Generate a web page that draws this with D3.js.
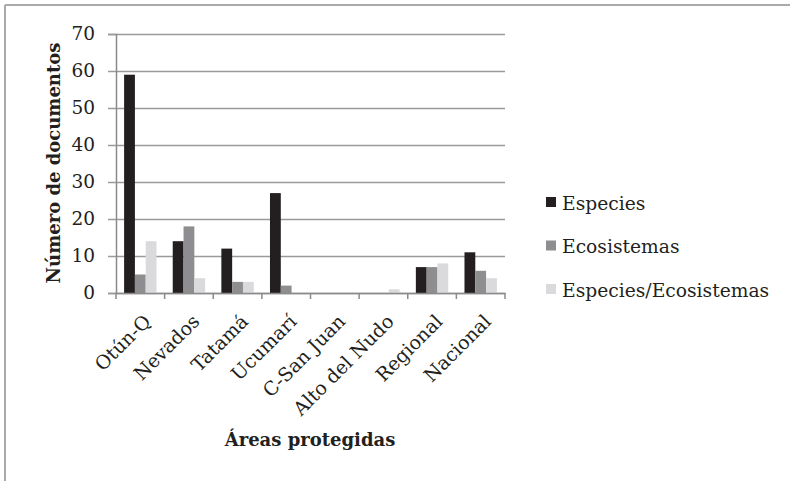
<!DOCTYPE html>
<html>
<head>
<meta charset="utf-8">
<script src="https://cdn.jsdelivr.net/npm/d3@7"></script>
<style>
  body { margin: 0; background: #fff; }
  svg text { font-family: "DejaVu Serif", "Liberation Serif", serif; fill: #231f20; }
</style>
</head>
<body>
<div id="chart"></div>
<script>
// data
const areas = ["Otún-Q", "Nevados", "Tatamá", "Ucumarí", "C-San Juan", "Alto del Nudo", "Regional", "Nacional"];
const seriesNames = ["Especies", "Ecosistemas", "Especies/Ecosistemas"];
const especies = [59, 14, 12, 27, 0, 0, 7, 11];
const ecosistemas = [5, 18, 3, 2, 0, 0, 7, 6];
const especiesEco = [14, 4, 3, 0, 0, 1, 8, 4];
const yTicks = [0, 10, 20, 30, 40, 50, 60, 70];
const colors = ["#231f20", "#8e8e90", "#dadadc"];

const W = 790, H = 481;
const svg = d3.select("#chart").append("svg")
    .attr("width", W)
    .attr("height", H);

// outer frame (top + left only visible)
svg.append("line").attr("x1", 5).attr("y1", 5).attr("x2", W).attr("y2", 5)
    .attr("stroke", "#aaaaaa").attr("stroke-width", 2);
svg.append("line").attr("x1", 5).attr("y1", 5).attr("x2", 5).attr("y2", H)
    .attr("stroke", "#aaaaaa").attr("stroke-width", 2);

const pLeft = 116, pRight = 505, pTop = 34, pBottom = 293;

const x = d3.scaleBand().domain(areas).range([pLeft, pRight]).paddingInner(0).paddingOuter(0);
const inner = x.bandwidth() / 4.5;  // three bars + 1.5 bar gap
const xs = d3.scaleBand().domain(seriesNames).range([0, inner * 3]);
const y = d3.scaleLinear().domain([0, 70]).range([pBottom, pTop]);

// grid
svg.append("g")
    .attr("transform", `translate(${pLeft},0)`)
    .call(d3.axisLeft(y).tickValues(yTicks).tickSize(-(pRight - pLeft)).tickFormat(""))
    .call(g => g.select(".domain").remove())
    .call(g => g.selectAll("line").attr("stroke", "#9a9a9a").attr("stroke-width", 1.5));

// y axis
svg.append("g")
    .attr("transform", `translate(${pLeft},0)`)
    .call(d3.axisLeft(y).tickValues(yTicks).tickSize(8).tickPadding(13))
    .call(g => g.select(".domain").attr("stroke", "#8a8a8a").attr("stroke-width", 1.5))
    .call(g => g.selectAll("line").attr("stroke", "#9a9a9a").attr("stroke-width", 1.5))
    .call(g => g.selectAll("text").attr("font-size", 18.5).attr("fill", "#231f20")
        .style("font-family", "'DejaVu Serif', serif"));

// bars
const table = areas.map((a, i) => ({ area: a, vals: [especies[i], ecosistemas[i], especiesEco[i]] }));
const groups = svg.append("g").selectAll("g")
    .data(table).enter().append("g")
    .attr("transform", d => `translate(${x(d.area) + inner * 0.75},0)`);
groups.selectAll("rect")
    .data(d => d.vals.map((v, k) => ({ s: seriesNames[k], v: v, k: k })))
    .enter().append("rect")
    .attr("x", d => xs(d.s))
    .attr("width", xs.bandwidth())
    .attr("y", d => y(d.v))
    .attr("height", d => pBottom - y(d.v))
    .attr("fill", d => colors[d.k]);

// x axis
const xAxis = svg.append("g")
    .attr("transform", `translate(0,${pBottom})`)
    .call(d3.axisBottom(x).tickSize(0).tickFormat(""))
    .call(g => g.select(".domain").attr("stroke", "#8a8a8a").attr("stroke-width", 1.5));
// tick marks at category borders
xAxis.selectAll(".sep")
    .data(areas.concat(["__end"])).enter().append("line")
    .attr("x1", (d, i) => pLeft + i * x.bandwidth())
    .attr("x2", (d, i) => pLeft + i * x.bandwidth())
    .attr("y1", 0).attr("y2", 6)
    .attr("stroke", "#8a8a8a").attr("stroke-width", 1.5);

svg.append("g").selectAll("text")
    .data(areas).enter().append("text")
    .attr("transform", d => `translate(${x(d) + x.bandwidth() / 2 + 7},${pBottom + 25}) rotate(-45)`)
    .attr("text-anchor", "end")
    .attr("dy", "0.35em")
    .attr("font-size", 19)
    .text(d => d);

// axis titles
svg.append("text")
    .attr("transform", `translate(54,163) rotate(-90)`)
    .attr("text-anchor", "middle")
    .attr("dy", "0.35em")
    .attr("font-size", 18)
    .attr("font-weight", "bold")
    .text("Número de documentos");

svg.append("text")
    .attr("x", 310).attr("y", 446)
    .attr("text-anchor", "middle")
    .attr("font-size", 18)
    .attr("font-weight", "bold")
    .text("Áreas protegidas");

// legend
const legend = svg.append("g").selectAll("g")
    .data(seriesNames).enter().append("g")
    .attr("transform", (d, i) => `translate(546,${203 + i * 43.5})`);
legend.append("rect")
    .attr("x", 0).attr("y", -6).attr("width", 10).attr("height", 10)
    .attr("fill", (d, i) => colors[i]);
legend.append("text")
    .attr("x", 16).attr("y", 0)
    .attr("dy", "0.35em")
    .attr("font-size", 18.7)
    .text(d => d);
</script>
</body>
</html>
